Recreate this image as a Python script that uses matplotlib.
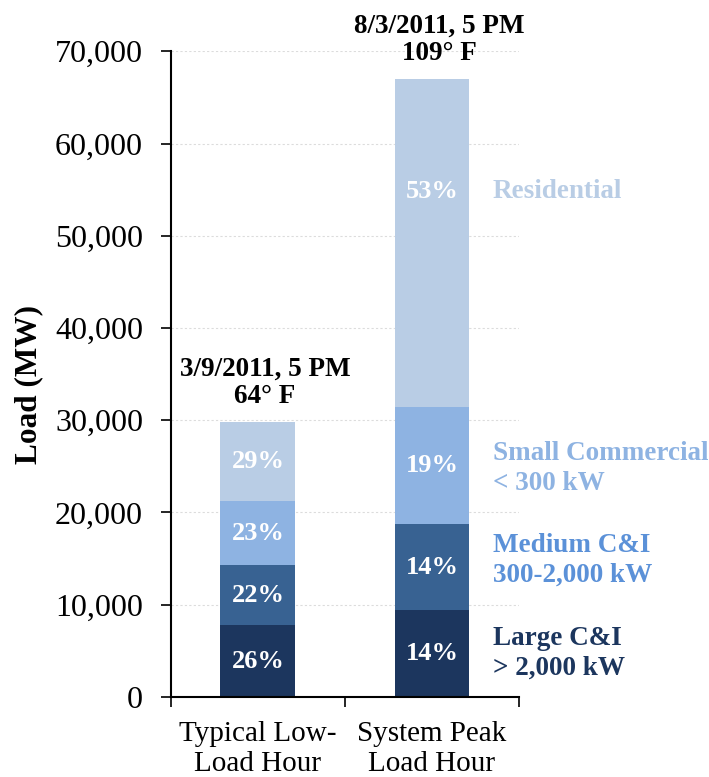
import numpy as np
import matplotlib
matplotlib.use('Agg')
import matplotlib.pyplot as plt

plt.rcParams['font.family'] = ['Liberation Serif', 'DejaVu Serif']

# Hourly load by customer class, two reference hours
categories = ['Typical Low-\nLoad Hour', 'System Peak\nLoad Hour']
totals = [29860, 67000]                      # MW
segments = ['Large C&I', 'Medium C&I', 'Small Commercial', 'Residential']
shares = {
    'Large C&I':        [26, 14],
    'Medium C&I':       [22, 14],
    'Small Commercial': [23, 19],
    'Residential':      [29, 53],
}
hour_notes = ['3/9/2011, 5 PM\n64° F', '8/3/2011, 5 PM\n109° F']
class_labels = ['Large C&I\n> 2,000 kW', 'Medium C&I\n300-2,000 kW',
                'Small Commercial\n< 300 kW', 'Residential']
class_label_y = [4760, 14820, 24780, 54850]

bar_colors = ['#1c365e', '#386292', '#8eb3e2', '#b9cde5']
text_colors = ['#1c365e', '#5b91d8', '#8eb3e2', '#b9cde5']

fig = plt.figure(figsize=(7.09, 7.77), dpi=100)
ax = fig.add_axes([0.241, 0.103, 0.491, 0.831])

x = np.arange(len(categories))
bottom = np.zeros(len(categories))
for seg, color in zip(segments, bar_colors):
    vals = np.array(totals) * np.array(shares[seg]) / 100.0
    ax.bar(x, vals, width=0.43, bottom=bottom, color=color, zorder=2)
    for i, v in enumerate(vals):
        yc = bottom[i] + v / 2
        # peak-hour residential label sits level with its class name
        if seg == 'Residential' and i == 1:
            yc = class_label_y[3]
        ax.text(x[i], yc, f'{shares[seg][i]}%', ha='center', va='center',
                color='white', fontsize=19, fontweight='bold', zorder=3)
    bottom += vals

for i, note in enumerate(hour_notes):
    ax.annotate(note, (x[i], totals[i]), xytext=(5, 9), textcoords='offset points',
                ha='center', va='bottom', fontsize=19.5, fontweight='bold',
                linespacing=1.15, annotation_clip=False)

for lab, yv, c in zip(class_labels, class_label_y, text_colors):
    ax.text(1.35, yv, lab, ha='left', va='center', color=c, fontsize=19.5,
            fontweight='bold', linespacing=1.25, clip_on=False)

ax.set_xlim(-0.5, 1.5)
ax.set_ylim(0, 70000)
ax.set_yticks(np.arange(0, 70001, 10000))
ax.set_yticklabels([f'{v:,}' for v in range(0, 70001, 10000)], fontsize=23)
fig.text(29 / 709, 1 - 384 / 777, 'Load (MW)', rotation=90, ha='center', va='center',
         fontsize=22.5, fontweight='bold')

# category names centred under bars, tick marks between categories
ax.set_xticks([-0.5, 0.5, 1.5])
ax.set_xticklabels([])
ax.set_xticks(x, minor=True)
ax.set_xticklabels(categories, minor=True, fontsize=21, linespacing=1.2)
ax.tick_params(axis='x', which='minor', length=0, pad=17)
ax.tick_params(axis='x', which='major', length=7, width=1.2, direction='out')
ax.tick_params(axis='y', length=7, width=1.2, direction='out', pad=13)

ax.yaxis.grid(True, color='#dcdcdc', linestyle=(0, (2, 2)), linewidth=0.8, zorder=0)
ax.set_axisbelow(True)
for side in ['top', 'right']:
    ax.spines[side].set_visible(False)
for side in ['left', 'bottom']:
    ax.spines[side].set_linewidth(1.5)

fig.savefig('out.png', dpi=100)
